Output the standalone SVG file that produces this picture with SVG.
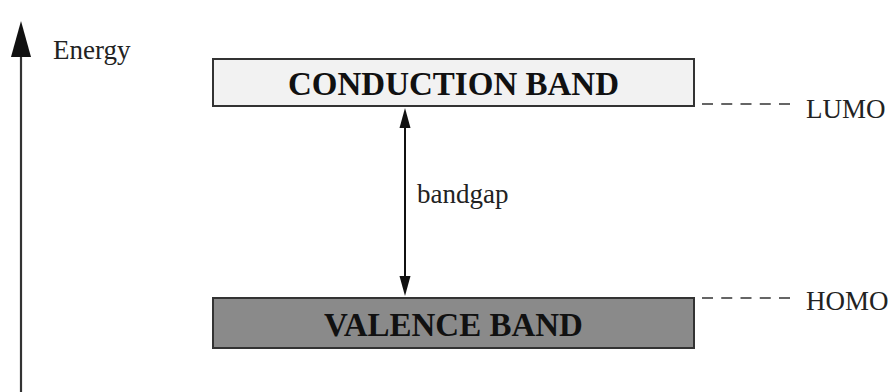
<svg xmlns="http://www.w3.org/2000/svg" width="891" height="392" viewBox="0 0 891 392">
<style>
.t{font-family:"Liberation Serif","Times New Roman",serif;font-size:27px;fill:#222}
.b{font-family:"Liberation Serif","Times New Roman",serif;font-size:33px;font-weight:bold;fill:#111;text-anchor:middle}
.band{stroke:#333;stroke-width:2}
.dash{stroke:#333;stroke-width:1.6;stroke-dasharray:11 8.25;fill:none}
</style>
<rect width="891" height="392" fill="#fff"/>
<g id="axis">
<line x1="21" y1="392" x2="21" y2="55" stroke="#333" stroke-width="2.2"/>
<polygon points="21,21 31,57 11,57" fill="#111"/>
<text class="t" x="53" y="59">Energy</text>
</g>
<g id="conduction">
<rect class="band" x="213" y="59" width="481" height="47" fill="#f2f2f2"/>
<text class="b" x="453.5" y="95">CONDUCTION BAND</text>
</g>
<g id="valence">
<rect class="band" x="213" y="298" width="481" height="50" fill="#8a8a8a"/>
<text class="b" x="453.5" y="336">VALENCE BAND</text>
</g>
<g id="lumo">
<line class="dash" x1="702" y1="104" x2="790" y2="104"/>
<text class="t" x="806" y="118">LUMO</text>
</g>
<g id="homo">
<line class="dash" x1="702" y1="298" x2="790" y2="298"/>
<text class="t" x="806" y="310">HOMO</text>
</g>
<g id="connectors">
<line x1="405" y1="125" x2="405" y2="278" stroke="#111" stroke-width="2"/>
<polygon points="405,108 410.5,128 399.5,128" fill="#111"/>
<polygon points="405,296 410.5,276 399.5,276" fill="#111"/>
<text class="t" x="417" y="203">bandgap</text>
</g>
</svg>
